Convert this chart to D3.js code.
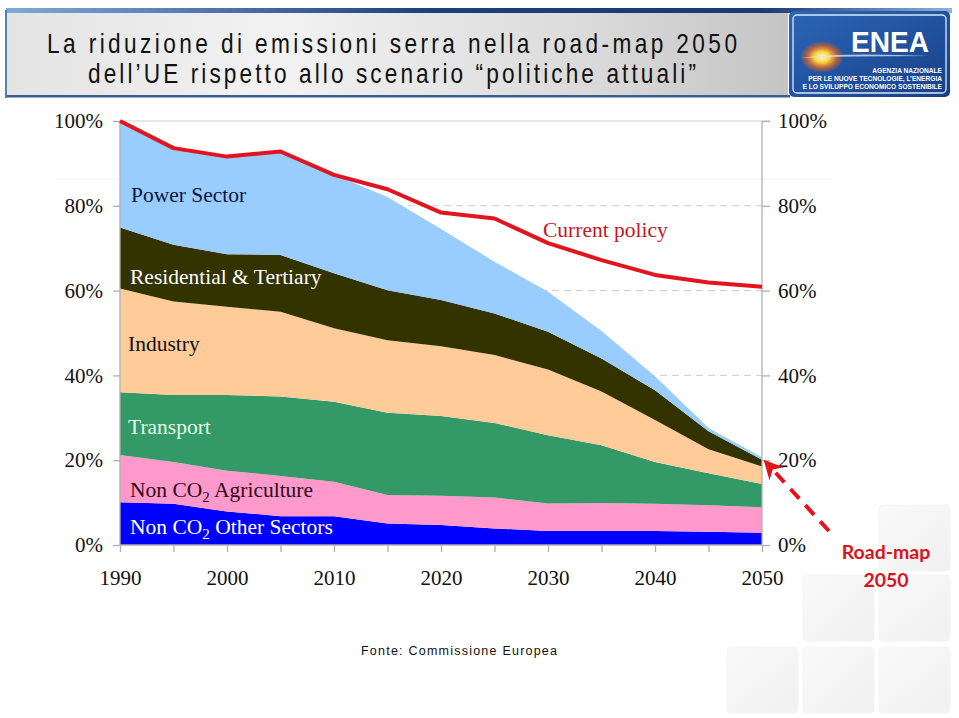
<!DOCTYPE html>
<html><head><meta charset="utf-8">
<script src="https://cdn.jsdelivr.net/npm/d3@7"></script>
<style>body{margin:0;background:#fff}svg{display:block}</style>
</head><body><svg id="c" width="959" height="718"></svg>
<script>
const years = [1990,1995,2000,2005,2010,2015,2020,2025,2030,2035,2040,2045,2050];
const otherSectors = [10.1,9.7,7.9,6.8,6.8,5.1,4.7,3.9,3.3,3.3,3.3,3.1,2.9];
const agriculture  = [11.1,9.9,9.6,9.5,8.1,6.7,6.9,7.3,6.5,6.6,6.4,6.3,6.0];
const transport    = [14.8,15.8,17.9,18.7,18.9,19.4,18.8,17.6,16.1,13.6,9.9,7.5,5.5];
const industry     = [24.5,22.0,20.8,20.0,17.3,17.1,16.5,16.0,15.5,12.7,9.9,5.7,4.1];
const residential  = [14.4,13.4,12.4,13.4,13.0,11.8,10.9,9.8,8.9,7.8,7.0,4.2,1.6];
const power        = [25.1,22.8,23.0,24.4,23.2,22.0,16.7,12.2,9.4,6.5,3.3,0.8,0.6];
const currentPolicy = [100,93.6,91.6,92.8,87.3,83.9,78.4,77.0,71.2,67.2,63.7,61.9,60.9];
const yTicks = [0,20,40,60,80,100];
const xLabels = [1990,2000,2010,2020,2030,2040,2050];
const seriesNames = ["Non CO2 Other Sectors","Non CO2 Agriculture","Transport","Industry","Residential & Tertiary","Power Sector"];
const title1 = "La riduzione di emissioni serra nella road-map 2050";
const title2 = "dell\u2019UE rispetto allo scenario \u201Cpolitiche attuali\u201D";

const svg = d3.select("#c");
const defs = svg.append("defs");

// ---------- header ----------
const hg = defs.append("linearGradient").attr("id","hdr").attr("x1",0).attr("x2",1).attr("y1",0).attr("y2",0);
hg.append("stop").attr("offset","0%").attr("stop-color","#e4e4e4");
hg.append("stop").attr("offset","35%").attr("stop-color","#f2f2f2");
hg.append("stop").attr("offset","75%").attr("stop-color","#dadada");
hg.append("stop").attr("offset","100%").attr("stop-color","#c4c4c4");
const tb = defs.append("linearGradient").attr("id","topbar").attr("x1",0).attr("x2",1);
tb.append("stop").attr("offset","0%").attr("stop-color","#7fa9d6");
tb.append("stop").attr("offset","45%").attr("stop-color","#1d3f7a");
tb.append("stop").attr("offset","80%").attr("stop-color","#1a3a72");
tb.append("stop").attr("offset","100%").attr("stop-color","#8db3dc");
svg.append("rect").attr("x",5).attr("y",8).attr("width",948).attr("height",91).attr("fill","#fff");
svg.append("rect").attr("x",6).attr("y",12).attr("width",782).attr("height",85).attr("fill","url(#hdr)");
svg.append("rect").attr("x",6).attr("y",8).attr("width",946).attr("height",5).attr("fill","url(#topbar)");
svg.append("rect").attr("x",6).attr("y",95).attr("width",784).attr("height",2.5).attr("fill","#3a5d95");
svg.append("rect").attr("x",5).attr("y",10).attr("width",2).attr("height",88).attr("fill","#5b7fb5");

const sx = 0.84;
[[title1,53,690],[title2,83,608]].forEach(([t,yy,w])=>{
  svg.append("g").attr("transform",`translate(392,0) scale(${sx},1)`)
    .append("text").attr("x",0).attr("y",yy).attr("text-anchor","middle")
    .attr("font-family","'Liberation Sans',Arial,sans-serif").attr("font-size",27)
    .attr("fill","#111").attr("textLength",w/sx).attr("lengthAdjust","spacing").text(t);
});

// logo
const lg = defs.append("linearGradient").attr("id","logo").attr("x1",0).attr("x2",1).attr("y1",0).attr("y2",1);
lg.append("stop").attr("offset","0%").attr("stop-color","#2c66b8");
lg.append("stop").attr("offset","100%").attr("stop-color","#173f86");
const fl = defs.append("radialGradient").attr("id","flare");
fl.append("stop").attr("offset","0%").attr("stop-color","#fffbe0");
fl.append("stop").attr("offset","35%").attr("stop-color","#ffd43a");
fl.append("stop").attr("offset","70%").attr("stop-color","#e8641a").attr("stop-opacity",0.7);
fl.append("stop").attr("offset","100%").attr("stop-color","#e8641a").attr("stop-opacity",0);
svg.append("rect").attr("x",789).attr("y",11).attr("width",161).attr("height",86).attr("rx",5).attr("fill","url(#logo)");
svg.append("rect").attr("x",793).attr("y",15).attr("width",153).attr("height",78).attr("rx",4).attr("fill","none").attr("stroke","#dbe8f7").attr("stroke-width",1.3);
svg.append("ellipse").attr("cx",822).attr("cy",57).attr("rx",22).attr("ry",16).attr("fill","url(#flare)");
svg.append("path").attr("d","M800,58 Q840,52 930,56 Q840,56 800,58Z").attr("fill","#cfe3ff").attr("opacity",0.8);
svg.append("text").attr("x",929).attr("y",52).attr("text-anchor","end").attr("font-family","'Liberation Sans',Arial,sans-serif")
  .attr("font-weight","bold").attr("font-size",30).attr("fill","#fff").attr("textLength",78).attr("lengthAdjust","spacingAndGlyphs").text("ENEA");
[["AGENZIA NAZIONALE",73],["PER LE NUOVE TECNOLOGIE, L\u2019ENERGIA",81],["E LO SVILUPPO ECONOMICO SOSTENIBILE",89]].forEach(([t,yy])=>{
  svg.append("text").attr("x",942).attr("y",yy).attr("text-anchor","end").attr("font-family","'Liberation Sans',Arial,sans-serif")
   .attr("font-weight","bold").attr("font-size",6.6).attr("fill","#fff").text(t);
});

// decorative squares
const sq = defs.append("linearGradient").attr("id","sq").attr("x1",0).attr("x2",1).attr("y1",0).attr("y2",1);
sq.append("stop").attr("offset","0%").attr("stop-color","#fafafa");
sq.append("stop").attr("offset","100%").attr("stop-color","#f0f0f0");
[[879,505],[803,575],[879,575],[727,647],[803,647],[879,647]].forEach(([qx,qy])=>{
  svg.append("rect").attr("x",qx).attr("y",qy).attr("width",71).attr("height",66).attr("rx",4)
    .attr("fill","url(#sq)").attr("stroke","#f4f4f4");
});

// ---------- chart ----------
const x = d3.scaleLinear().domain([1990,2050]).range([120,762]);
const y = d3.scaleLinear().domain([0,100]).range([545,121]);

// gridlines
svg.append("line").attr("x1",55).attr("x2",832).attr("y1",179).attr("y2",179).attr("stroke","#f3f3f3");
svg.append("line").attr("x1",120).attr("x2",770).attr("y1",y(100)).attr("y2",y(100)).attr("stroke","#cfcfcf").attr("stroke-width",1.2);
svg.append("g").selectAll("line").data([20,40,60,80]).join("line")
  .attr("x1",120).attr("x2",762).attr("y1",d=>y(d)).attr("y2",d=>y(d))
  .attr("stroke","#cccccc").attr("stroke-dasharray","7,5");

const table = years.map((yr,i)=>({year:yr, o:otherSectors[i], a:agriculture[i], t:transport[i], n:industry[i], r:residential[i], p:power[i]}));
const keys = ["o","a","t","n","r","p"];
const colors = {o:"#0000ff", a:"#ff99cc", t:"#339966", n:"#ffcc99", r:"#333300", p:"#99ccff"};
const stack = d3.stack().keys(keys)(table);
const area = d3.area().x(d=>x(d.data.year)).y0(d=>y(d[0])).y1(d=>y(d[1]));
svg.append("g").selectAll("path").data(stack).join("path")
  .attr("d",area).attr("fill",d=>colors[d.key]);

// axes
const axL = svg.append("g").attr("transform","translate(120,0)")
  .call(d3.axisLeft(y).tickValues(yTicks).tickSize(7).tickPadding(10).tickFormat(d=>d+"%"));
const axR = svg.append("g").attr("transform","translate(762,0)")
  .call(d3.axisRight(y).tickValues(yTicks).tickSize(8).tickPadding(8).tickFormat(d=>d+"%"));
const axB = svg.append("g").attr("transform","translate(0,545)")
  .call(d3.axisBottom(x).tickValues(years).tickSize(7).tickPadding(18).tickFormat(d=>xLabels.includes(d)?d:""));
[axL,axR,axB].forEach(g=>{
  g.select(".domain").attr("stroke","#b0b0b0").attr("stroke-width",1.3);
  g.selectAll(".tick line").attr("stroke","#b0b0b0").attr("stroke-width",1.3);
  g.selectAll("text").attr("font-family","'Liberation Serif','Times New Roman',serif").attr("font-size",21).attr("fill","#111");
});
axL.select(".domain").attr("d","M0,"+y(0)+"V"+y(100));
axR.select(".domain").attr("d","M0,"+y(0)+"V"+y(100));
axB.select(".domain").attr("d","M120,0H762");

// current policy line
const line = d3.line().x((d,i)=>x(years[i])).y(d=>y(d));
svg.append("path").attr("d",line(currentPolicy)).attr("fill","none").attr("stroke","#e3141d").attr("stroke-width",4).attr("stroke-linejoin","round");

// series labels
const serif = "'Liberation Serif','Times New Roman',serif";
function lab(xp,yp,parts,color){
  const t = svg.append("text").attr("x",xp).attr("y",yp).attr("font-family",serif).attr("font-size",21.5).attr("fill",color);
  parts.forEach(p=>{
    const s = t.append("tspan").text(p.t);
    if(p.sub){ s.attr("font-size",15).attr("dy",5); }
    else if(p.after){ s.attr("dy",-5); }
  });
}
lab(131,202,[{t:"Power Sector"}],"#0b1638");
lab(130,284,[{t:"Residential & Tertiary"}],"#ffffff");
lab(128,351,[{t:"Industry"}],"#111111");
lab(128,434,[{t:"Transport"}],"#e4fbea");
lab(130,497,[{t:"Non CO"},{t:"2",sub:true},{t:" Agriculture",after:true}],"#2a0c1c");
lab(130,534,[{t:"Non CO"},{t:"2",sub:true},{t:" Other Sectors",after:true}],"#ffffff");
lab(543,237,[{t:"Current policy"}],"#c8161f");

// road-map arrow
defs.append("marker").attr("id","ah").attr("viewBox","0 0 10 10").attr("refX",2).attr("refY",5)
  .attr("markerWidth",4.8).attr("markerHeight",4.8).attr("orient","auto")
  .append("path").attr("d","M0,0 L10,5 L0,10 L3,5Z").attr("fill","#e3141d");
svg.append("line").attr("x1",829).attr("y1",531).attr("x2",774).attr("y2",471)
  .attr("stroke","#e3141d").attr("stroke-width",4).attr("stroke-dasharray","13,9").attr("marker-end","url(#ah)");
svg.append("text").attr("x",886).attr("y",559).attr("text-anchor","middle").attr("font-family","Lato,'Open Sans',sans-serif")
  .attr("font-weight","bold").attr("font-size",19.5).attr("fill","#d9121b").text("Road-map");
svg.append("text").attr("x",886).attr("y",587).attr("text-anchor","middle").attr("font-family","Lato,'Open Sans',sans-serif")
  .attr("font-weight","bold").attr("font-size",19.5).attr("fill","#d9121b").text("2050");

// source
svg.append("text").attr("x",459).attr("y",655).attr("text-anchor","middle").attr("font-family","'Liberation Sans',Arial,sans-serif")
  .attr("font-size",12.5).attr("fill","#111").attr("textLength",196).attr("lengthAdjust","spacing").text("Fonte: Commissione Europea");
</script></body></html>
